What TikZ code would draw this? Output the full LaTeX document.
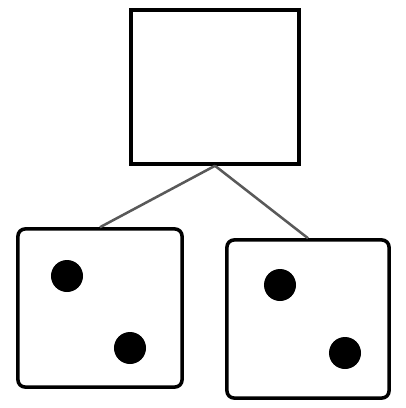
\documentclass[tikz,border=0pt]{standalone}
\usetikzlibrary{positioning}

\begin{document}
\begin{tikzpicture}[x=0.025cm, y=-0.025cm,
  box/.style={rectangle, draw, line width=2.5pt, inner sep=0pt},
  die/.style={box, rounded corners=5pt},
  pip/.style={circle, fill=black, minimum size=0.8cm, inner sep=0pt},
  link/.style={draw=black!65, line width=1.8pt}]
\useasboundingbox (0, 0) rectangle (406, 408);
\node[box, minimum width=4.2cm, minimum height=3.85cm] (T) at (215, 87) {};
\node[die, minimum width=4.1cm, minimum height=3.95cm] (L) at (100, 308) {};
\node[die, minimum width=4.05cm, minimum height=3.95cm] (R) at (308, 319) {};
\node[pip] (L1) at (67, 276) {};
\node[pip] (L2) at (130, 348) {};
\node[pip] (R1) at (280, 285) {};
\node[pip] (R2) at (345, 353) {};
\draw[link] (T.south) -- (L.north);
\draw[link] (T.south) -- (R.north);

\end{tikzpicture}
\end{document}
